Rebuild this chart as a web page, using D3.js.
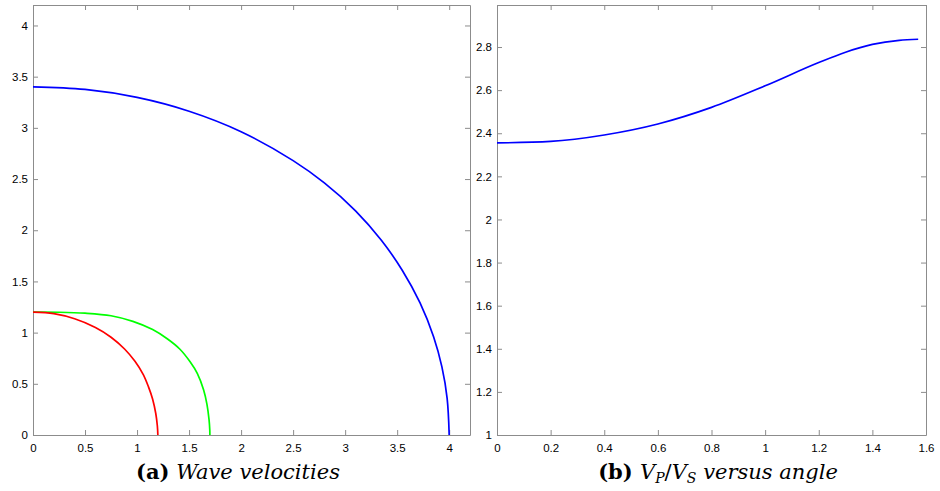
<!DOCTYPE html>
<html><head><meta charset="utf-8">
<script src="https://cdn.jsdelivr.net/npm/d3@7"></script>
<style>
body{margin:0;background:#fff;}
svg{display:block;}
.tick text{font-family:"Liberation Sans",Arial,sans-serif;font-size:11.5px;fill:#000;}
.cap{font-family:"DejaVu Serif","Liberation Serif",serif;font-size:21px;fill:#000;}
</style></head>
<body>
<svg id="chart" width="940" height="491"></svg>
<script>
// Panel (a): wave velocity curves (x, y)
const blueX = [0, 0.5, 1.0, 1.5, 2.0, 2.5, 2.8, 3.1, 3.35, 3.55, 3.72, 3.85, 3.93, 3.98, 4.0];
const blueY = [3.400, 3.375, 3.297, 3.162, 2.962, 2.680, 2.462, 2.190, 1.900, 1.607, 1.290, 0.960, 0.665, 0.360, 0];
const redX = [0, 0.2, 0.4, 0.6, 0.75, 0.88, 0.98, 1.06, 1.11, 1.15, 1.18, 1.195, 1.2];
const redY = [1.200, 1.185, 1.135, 1.050, 0.955, 0.840, 0.720, 0.590, 0.470, 0.350, 0.210, 0.090, 0];
const greenX = [0, 0.25, 0.5, 0.75, 0.96, 1.15, 1.29, 1.41, 1.51, 1.58, 1.64, 1.672, 1.692, 1.699, 1.7];
const greenY = [1.200, 1.199, 1.190, 1.165, 1.110, 1.030, 0.940, 0.840, 0.715, 0.600, 0.440, 0.300, 0.150, 0.050, 0];
const aXTicks = [0, 0.5, 1, 1.5, 2, 2.5, 3, 3.5, 4];
const aYTicks = [0, 0.5, 1, 1.5, 2, 2.5, 3, 3.5, 4];
// Panel (b): Vp/Vs versus angle
const angle = [0, 0.2, 0.4, 0.6, 0.8, 1.0, 1.2, 1.3, 1.4, 1.5, 1.5708];
const ratio = [2.355, 2.362, 2.392, 2.443, 2.520, 2.620, 2.728, 2.776, 2.812, 2.831, 2.836];
const bXTicks = [0, 0.2, 0.4, 0.6, 0.8, 1, 1.2, 1.4, 1.6];
const bYTicks = [1, 1.2, 1.4, 1.6, 1.8, 2, 2.2, 2.4, 2.6, 2.8];

const svg = d3.select("#chart");
const axisColor = "#8c8c8c";

function panel(cfg){
  const {x0,x1,y0,y1,xd,yd,xt,yt} = cfg;
  const x = d3.scaleLinear().domain(xd).range([x0,x1]);
  const y = d3.scaleLinear().domain(yd).range([y1,y0]);
  const g = svg.append("g");
  const fmt = d => String(+d.toFixed(2));
  const gb = g.append("g").attr("transform",`translate(0,${y1})`)
    .call(d3.axisBottom(x).tickValues(xt).tickFormat(fmt).tickSizeInner(-5).tickSizeOuter(0).tickPadding(9));
  const gt = g.append("g").attr("transform",`translate(0,${y0})`)
    .call(d3.axisTop(x).tickValues(xt).tickFormat("").tickSizeInner(-5).tickSizeOuter(0));
  const gl = g.append("g").attr("transform",`translate(${x0},0)`)
    .call(d3.axisLeft(y).tickValues(yt).tickFormat(fmt).tickSizeInner(-5).tickSizeOuter(0).tickPadding(5));
  const gr = g.append("g").attr("transform",`translate(${x1},0)`)
    .call(d3.axisRight(y).tickValues(yt).tickFormat("").tickSizeInner(-5).tickSizeOuter(0));
  [gb,gt,gl,gr].forEach(a=>{
    a.selectAll("path.domain").attr("stroke",axisColor).attr("stroke-width",1);
    a.selectAll(".tick line").attr("stroke",axisColor);
  });
  return {g,x,y};
}

const A = panel({x0:33,x1:470,y0:5,y1:435,xd:[0,4.2],yd:[0,4.2],xt:aXTicks,yt:aYTicks});
const lineA = d3.line().x(d=>A.x(d[0])).y(d=>A.y(d[1])).curve(d3.curveCatmullRom.alpha(0.5));
[[blueX,blueY,"#0000ff"],[greenX,greenY,"#00ff00"],[redX,redY,"#ff0000"]].forEach(([xs,ys,c])=>{
  A.g.append("path").datum(xs.map((v,i)=>[v,ys[i]]))
    .attr("d",lineA).attr("fill","none").attr("stroke",c).attr("stroke-width",1.7);
});

const B = panel({x0:497,x1:926,y0:5,y1:435,xd:[0,1.6],yd:[1,2.995],xt:bXTicks,yt:bYTicks});
B.g.append("path").datum(angle.map((v,i)=>[v,ratio[i]]))
  .attr("d",d3.line().x(d=>B.x(d[0])).y(d=>B.y(d[1])).curve(d3.curveMonotoneX))
  .attr("fill","none").attr("stroke","#0000ff").attr("stroke-width",1.7);

// Captions
const ca = svg.append("text").attr("class","cap").attr("x",238).attr("y",479).attr("text-anchor","middle");
ca.append("tspan").attr("font-weight","bold").text("(a)");
ca.append("tspan").attr("font-style","italic").text(" Wave velocities");

const cb = svg.append("text").attr("class","cap").attr("x",718).attr("y",479).attr("text-anchor","middle");
cb.append("tspan").attr("font-weight","bold").text("(b) ");
cb.append("tspan").attr("font-style","italic").text("V");
cb.append("tspan").attr("font-style","italic").attr("font-size","14px").attr("dy",4).text("P");
cb.append("tspan").attr("dy",-4).text("/");
cb.append("tspan").attr("font-style","italic").text("V");
cb.append("tspan").attr("font-style","italic").attr("font-size","14px").attr("dy",4).text("S");
cb.append("tspan").attr("dy",-4).attr("font-style","italic").text(" versus angle");
</script>
</body></html>
